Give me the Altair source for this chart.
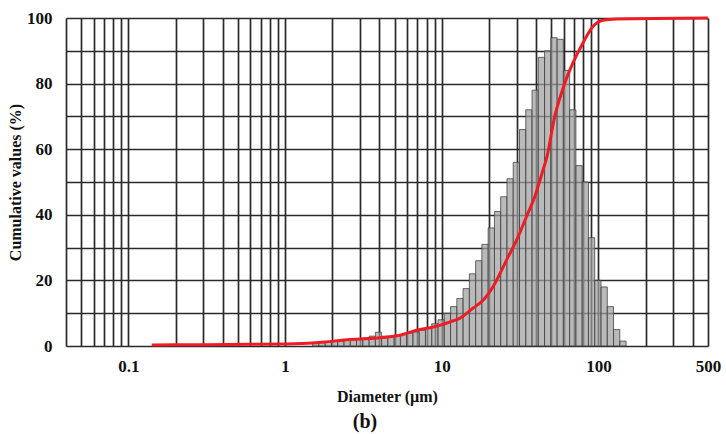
import altair as alt
import pandas as pd

# Histogram bins (µm) – lower/upper edges taken pairwise
bin_edges = [1.500, 1.645, 1.803, 1.977, 2.168, 2.377, 2.607, 2.858, 3.134, 3.436,
             3.768, 4.131, 4.530, 4.967, 5.446, 5.971, 6.547, 7.179, 7.872, 8.631,
             9.464, 10.38, 11.38, 12.48, 13.68, 15.00, 16.45, 18.03, 19.77, 21.68,
             23.77, 26.07, 28.58, 31.34, 34.36, 37.68, 41.31, 45.30, 49.67, 54.46,
             59.71, 65.47, 71.79, 78.72, 86.31, 94.64, 103.8, 113.8, 124.8, 136.8,
             150.0]
bin_values = [1.1, 1.2, 1.3, 1.4, 1.5, 1.7, 1.9, 2.1, 2.4, 3.0,
              4.2, 3.0, 3.0, 3.2, 3.5, 3.9, 4.3, 4.8, 5.5, 6.8,
              8.0, 10.0, 12.0, 14.5, 17.5, 22.0, 26.0, 31.0, 36.0, 41.0,
              45.5, 51.0, 56.0, 66.0, 72.0, 78.0, 88.0, 90.0, 94.0, 93.5,
              84.0, 72.0, 55.0, 50.0, 33.0, 20.0, 18.0, 12.0, 5.0, 1.5]

# Cumulative curve
cum_diam = [0.141, 0.287, 0.6, 1.0, 1.5, 1.77, 2.59, 4.23, 5.40, 6.90, 8.81, 9.72,
            11.2, 13.0, 15.8, 18.4, 21.8, 25.9, 30.7, 34.7, 39.2, 44.3, 46.5, 52.6,
            60.9, 68.7, 79.6, 92.2, 106.7, 130.0, 500.0]
cum_vals = [0.3, 0.4, 0.5, 0.6, 0.9, 1.2, 2.0, 2.6, 3.3, 4.8, 5.8, 6.3,
            7.3, 8.4, 11.5, 14.0, 19.0, 26.2, 33.3, 39.4, 45.5, 53.7, 57.0, 70.0,
            80.1, 86.3, 92.4, 97.4, 99.3, 99.7, 100.0]

# Axis grid / labels
grid_x = [0.04, 0.05, 0.06, 0.07, 0.08, 0.09, 0.1, 0.2, 0.3, 0.4, 0.5, 0.6, 0.7, 0.8, 0.9,
          1, 2, 3, 4, 5, 6, 7, 8, 9, 10, 20, 30, 40, 50, 60, 70, 80, 90,
          100, 200, 300, 400, 500]
x_labels = [0.1, 1, 10, 100, 500]
grid_y = [0, 10, 20, 30, 40, 50, 60, 70, 80, 90, 100]

bars = pd.DataFrame({"lo": bin_edges[:-1], "hi": bin_edges[1:], "v": bin_values})
cum = pd.DataFrame({"d": cum_diam, "v": cum_vals})

FONT = "Liberation Serif"
xscale = alt.Scale(type="log", domain=[0.04, 500], nice=False)
yscale = alt.Scale(domain=[0, 100], nice=False, zero=True)

xaxis = alt.Axis(values=grid_x, title="Diameter (µm)",
                 labelExpr="indexof(" + str(x_labels) + ", datum.value) >= 0 ? format(datum.value, '~g') : ''",
                 grid=True, gridColor="#2a2a2a", gridWidth=1.7, gridOpacity=1,
                 domain=False, ticks=False, labelPadding=12, titlePadding=14,
                 labelFlush=False, labelOverlap=False)
yaxis = alt.Axis(values=grid_y, title="Cumulative values (%)",
                 labelExpr="datum.value % 20 === 0 ? datum.label : ''",
                 grid=True, gridColor="#2a2a2a", gridWidth=1.7, gridOpacity=1,
                 domain=False, ticks=False, labelPadding=14, titlePadding=3)

bar_layer = alt.Chart(bars).mark_rect(
    fill="#a0a0a0", fillOpacity=0.72, stroke="#444444", strokeWidth=0.8
).encode(
    x=alt.X("lo:Q", scale=xscale, axis=xaxis),
    x2="hi:Q",
    y=alt.Y("v:Q", scale=yscale, axis=yaxis),
    y2=alt.datum(0),
)

line_layer = alt.Chart(cum).mark_line(
    color="#ee1c24", strokeWidth=3, interpolate="monotone"
).encode(
    x=alt.X("d:Q", scale=xscale, axis=xaxis),
    y=alt.Y("v:Q", scale=yscale, axis=yaxis),
)

chart = alt.layer(bar_layer, line_layer).properties(
    width=642, height=328,
    autosize=alt.AutoSizeParams(type="none"),
    padding={"left": 66, "top": 18, "right": 18, "bottom": 88},
    title=alt.TitleParams("(b)", orient="bottom", anchor="middle", dx=-22, offset=8,
                          font=FONT, fontSize=20, fontWeight="bold", color="#111111"),
).configure_view(stroke=None).configure_axis(
    labelFont=FONT, labelFontSize=17, labelFontWeight="bold", labelColor="#111111",
    titleFont=FONT, titleFontSize=16, titleFontWeight="bold", titleColor="#111111",
)

chart.save("out.html", embed_options={"renderer": "svg", "actions": False})
